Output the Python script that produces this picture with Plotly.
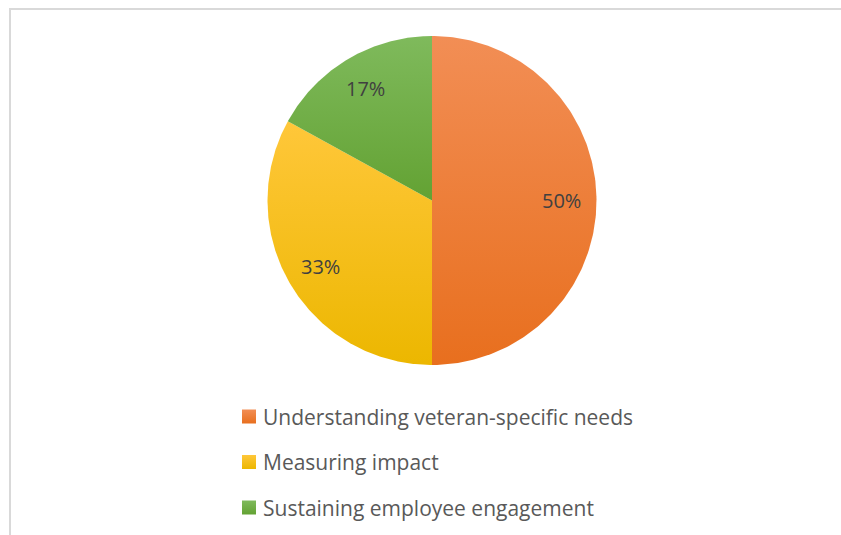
import numpy as np
import plotly.graph_objects as go

# Chart data
categories = ["Understanding veteran-specific needs", "Measuring impact", "Sustaining employee engagement"]
shares = [50, 33, 17]  # percent of responses

# Per-slice vertical gradient (bottom colour, top colour)
grad_bottom = ["#E86F1E", "#ECB700", "#63A233"]
grad_top = ["#F28E55", "#FFC73A", "#7FBA5C"]

W, H = 841, 535
CX, CY, R = 432, 200.5, 164.5
LABEL_R = 0.79
FONT = "Open Sans"

fig = go.Figure()

total = float(sum(shares))
start = 0.0
label_annotations = []
for name, val, c0, c1 in zip(categories, shares, grad_bottom, grad_top):
    a0 = start / total * 2 * np.pi
    a1 = (start + val) / total * 2 * np.pi
    th = np.linspace(a0, a1, 200)
    xs = np.concatenate([[CX], CX + R * np.sin(th), [CX]])
    ys = np.concatenate([[CY], CY - R * np.cos(th), [CY]])
    fig.add_trace(go.Scatter(
        x=xs, y=ys, mode="lines", fill="toself",
        line=dict(width=0, color=c0),
        fillgradient=dict(type="vertical", colorscale=[[0, c0], [1, c1]]),
        name=name, showlegend=False, hoverinfo="skip",
    ))
    mid = (a0 + a1) / 2
    label_annotations.append(dict(
        x=CX + LABEL_R * R * np.sin(mid), y=CY - LABEL_R * R * np.cos(mid),
        xref="x", yref="y", text=f"{val}%", showarrow=False,
        xanchor="center", yanchor="middle",
        font=dict(family=FONT, size=20, color="#404040"),
    ))
    start += val

# Legend rows: gradient swatch + label
LEG_X, LEG_Y0, LEG_DY, SW = 242, 416.5, 45.5, 14
legend_annotations = []
for i, (name, c0, c1) in enumerate(zip(categories, grad_bottom, grad_top)):
    yc = LEG_Y0 + i * LEG_DY
    fig.add_trace(go.Scatter(
        x=[LEG_X, LEG_X + SW, LEG_X + SW, LEG_X, LEG_X],
        y=[yc - SW / 2, yc - SW / 2, yc + SW / 2, yc + SW / 2, yc - SW / 2],
        mode="lines", fill="toself", line=dict(width=0, color=c0),
        fillgradient=dict(type="vertical", colorscale=[[0, c0], [1, c1]]),
        showlegend=False, hoverinfo="skip",
    ))
    legend_annotations.append(dict(
        x=LEG_X + SW + 5, y=yc, xref="x", yref="y", text=name, showarrow=False,
        xanchor="left", yanchor="middle",
        font=dict(family=FONT, size=21, color="#595959"),
    ))

fig.update_layout(
    width=W, height=H,
    margin=dict(l=0, r=0, t=0, b=0),
    paper_bgcolor="white", plot_bgcolor="white",
    xaxis=dict(range=[0, W], visible=False, fixedrange=True),
    yaxis=dict(range=[H, 0], visible=False, fixedrange=True),
    annotations=label_annotations + legend_annotations,
    shapes=[dict(type="rect", xref="x", yref="y", x0=10, y0=9, x1=W + 20, y1=H + 20,
                 line=dict(color="#D9D9D9", width=2), fillcolor="rgba(0,0,0,0)", layer="below")],
)

fig.write_html("out.html")
